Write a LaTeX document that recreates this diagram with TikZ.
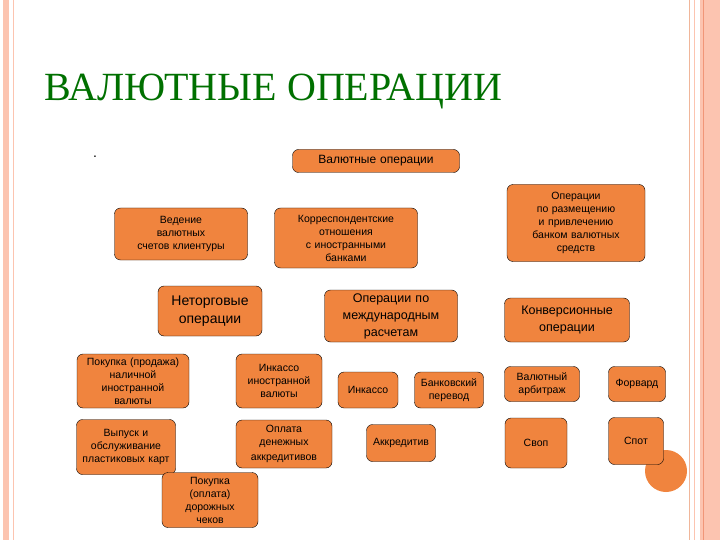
\documentclass[tikz,border=0pt]{standalone}
\usepackage{fontspec}
\setmainfont{Liberation Sans}
\newfontfamily\titlefont{Liberation Serif}
\usetikzlibrary{backgrounds}
\definecolor{boxor}{RGB}{240,132,62}
\definecolor{pinkst}{RGB}{252,196,176}
\definecolor{pinkdk}{RGB}{240,150,120}
\definecolor{titlegr}{RGB}{0,112,0}
\begin{document}
\begin{tikzpicture}[x=1pt,y=-1pt,
  box/.style={draw=black,fill=boxor,rounded corners=6pt,inner sep=1pt,align=center,
    font=\fontsize{10.5}{13}\selectfont},
  arr/.style={-latex,line width=1.2pt},
  thin/.style={line width=0.5pt}]
\useasboundingbox (0,0) rectangle (720,540);
\fill[white] (0,0) rectangle (720,540);
% frame
\fill[pinkst] (3,0) rectangle (9,540);
\draw[pinkst,line width=0.6pt] (13,0) -- (13,540);
\draw[pinkst!80!brown,line width=0.8pt] (689,0) -- (689,540);
\draw[pinkst,line width=0.6pt] (694,0) -- (694,540);
\fill[pinkst] (700,0) rectangle (720,540);
\draw[pinkdk,line width=1pt] (703,0) -- (703,540);
\node[font=\titlefont\fontsize{40}{44}\selectfont,text=titlegr,anchor=base west,inner sep=0] (title) at (44,101) {ВАЛЮТНЫЕ ОПЕРАЦИИ};
\node[font=\fontsize{14}{14}\selectfont,inner sep=0] (dot) at (95,157) {.};
\node[circle,fill=boxor,minimum size=42pt,inner sep=0] (circ) at (666,471) {};
% nodes
\node[box,minimum width=167,minimum height=23,text width=160,font=\fontsize{12}{14}\selectfont] (top) at (376,161) {Валютные операции};
\node[box,minimum width=133,minimum height=52,text width=130] (ved) at (181,234) {Ведение\\валютных\\счетов клиентуры};
\node[box,minimum width=143,minimum height=60,text width=140] (kor) at (346,238) {Корреспондентские\\отношения\\с иностранными\\банками};
\node[box,minimum width=138,minimum height=77,text width=134] (raz) at (576,223) {Операции\\по размещению\\и привлечению\\банком валютных\\средств};
\node[box,minimum width=104,minimum height=50,text width=102,font=\fontsize{14}{18}\selectfont] (net) at (210,311) {Неторговые\\операции};
\node[box,minimum width=133,minimum height=52,text width=130,font=\fontsize{12.5}{17}\selectfont] (mez) at (391,316) {Операции по\\международным\\расчетам};
\node[box,minimum width=125,minimum height=44,text width=122,font=\fontsize{12.5}{17}\selectfont] (kon) at (567,320) {Конверсионные\\операции};
\node[box,minimum width=110,minimum height=54,text width=110] (pok) at (133,381) {Покупка (продажа)\\наличной\\иностранной\\валюты};
\node[box,minimum width=86,minimum height=54,text width=84] (ink) at (279,381) {Инкассо\\иностранной\\валюты};
\node[box,minimum width=97,minimum height=55,text width=97] (vyp) at (126,447) {Выпуск и\\обслуживание\\пластиковых карт};
\node[box,minimum width=96,minimum height=48,text width=94] (opl) at (284,444) {Оплата\\денежных\\[2pt]аккредитивов};
\node[box,minimum width=96,minimum height=55,text width=94] (che) at (210,500) {Покупка\\(оплата)\\дорожных\\чеков};
\node[box,minimum width=60,minimum height=36,text width=58] (ink2) at (368,390) {Инкассо};
\node[box,minimum width=67,minimum height=36,text width=67] (ban) at (449,390) {Банковский\\перевод};
\node[box,minimum width=67,minimum height=37,text width=67] (akk) at (401,443) {Аккредитив};
\node[box,minimum width=75,minimum height=35,text width=73] (arb) at (542,384) {Валютный\\арбитраж};
\node[box,minimum width=57,minimum height=35,text width=55] (for) at (637,384) {Форвард};
\node[box,minimum width=62,minimum height=50,text width=60] (svo) at (536,443) {Своп};
\node[box,minimum width=55,minimum height=47,text width=53] (spo) at (636,441) {Спот};
\coordinate (t1) at (178,356);
\coordinate (t2) at (250,356);
\coordinate (t3) at (560,368);
\coordinate (t4) at (608,368);
\begin{scope}[on background layer]
\draw[arr] (top.south -| 310,0) -- (ved.north -| 200,0);
\draw[arr] (top.south -| 322,0) -- (net.north -| 245,0);
\draw[arr] (top.south -| 373,0) -- (kor.north -| 373,0);
\draw[arr] (top.south -| 415,0) -- (mez.north -| 432,0);
\draw[arr] (top.south -| 425,0) -- (kon.north -| 540,0);
\draw[arr] (top.south -| 437,0) -- (raz.west |- 0,212);
\draw[arr] (net.south -| 170,0) -- (pok.north -| 145,0);
\draw[thin] (net.south -| 190,0) -- (t1);
\draw[arr] (net.south -| 212,0) -- (che.north -| 212,0);
\draw[thin] (net.south -| 236,0) -- (t2);
\draw[arr] (net.south -| 252,0) -- (ink.north -| 270,0);
\draw[arr] (pok.south -| 150,0) -- (vyp.north -| 140,0);
\draw[arr] (ink.south -| 267,0) -- (opl.north -| 270,0);
\draw[arr] (mez.south -| 375,0) -- (ink2.north -| 362,0);
\draw[arr] (mez.south -| 405,0) -- (akk.north -| 405,0);
\draw[arr] (mez.south -| 430,0) -- (ban.north -| 450,0);
\draw[arr] (kon.south -| 547,0) -- (arb.north -| 533,0);
\draw[thin] (kon.south -| 565,0) -- (t3);
\draw[thin] (kon.south -| 597,0) -- (t4);
\draw[arr] (kon.south -| 617,0) -- (for.north -| 635,0);
\draw[arr] (arb.south -| 547,0) -- (svo.north -| 543,0);
\draw[arr] (for.south -| 628,0) -- (spo.north -| 640,0);
\end{scope}
\end{tikzpicture}
\end{document}
